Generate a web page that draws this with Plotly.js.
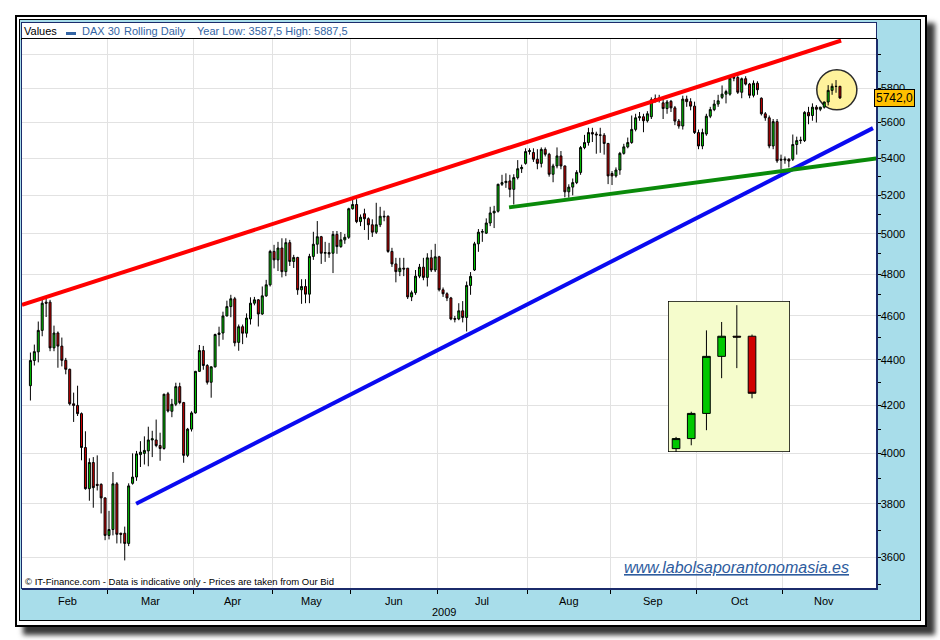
<!DOCTYPE html>
<html>
<head>
<meta charset="utf-8">
<script src="https://cdn.plot.ly/plotly-3.0.1.min.js"></script>
<style>
html,body{margin:0;padding:0;background:#fff;}
#wrap{position:relative;width:940px;height:640px;overflow:hidden;background:#fff;}
.frame{position:absolute;left:15px;top:15px;width:912px;height:612px;box-sizing:border-box;border:2px solid #000;background:#fff;box-shadow:8px 8px 5px #3a3a3a;}
.inner{position:absolute;left:19px;top:19px;width:902px;height:602px;box-sizing:border-box;border:1px solid #000;background:#A8DDEA;}
.panel{position:absolute;left:21px;top:22px;width:856px;height:567px;box-sizing:border-box;border:1px solid #1b2b6b;background:#fff;}
.sep{position:absolute;left:21px;top:38px;width:856px;height:1.5px;background:#000;}
#chart{position:absolute;left:0;top:0;width:940px;height:640px;}
</style>
</head>
<body>
<div id="wrap">
  <div class="frame"></div>
  <div class="inner"></div>
  <div class="panel"></div>
  <div class="sep"></div>
  <div id="chart"></div>
</div>
<script>
// ---- DAX 30 daily candles, index 0 = first trading day of Feb 2009 ----
const openP = [4285,4396,4435,4533,4665,4665,4453,4521,4461,4397,4357,4207,4200,4165,4024,3859,3963,3876,3876,3823,
3680,3702,3878,3688,3688,3650,3880,3905,3995,4000,4010,4055,4055,4032,4020,4250,4175,4205,4281,4212,
3992,4100,4168,4348,4441,4374,4300,4368,4514,4521,4600,4644,4681,4478,4550,4520,4586,4660,4676,4609,
4695,4748,4912,4870,4929,4812,4956,4862,4882,4724,4740,4703,4887,4948,4986,4903,4906,4903,4998,4936,
4970,4983,5130,5152,5063,5104,5078,5047,5009,5047,5091,5091,4912,4850,4812,4829,4829,4690,4710,4790,
4834,4784,4880,4820,4885,4724,4705,4685,4588,4586,4624,4593,4745,4820,4950,5009,5004,5056,5108,5117,
5259,5268,5277,5232,5295,5343,5372,5437,5432,5395,5372,5449,5422,5313,5358,5413,5358,5219,5244,5268,
5323,5459,5487,5543,5535,5530,5528,5482,5317,5304,5336,5427,5463,5487,5561,5627,5633,5610,5633,5731,
5737,5713,5680,5722,5684,5608,5580,5735,5720,5694,5543,5468,5535,5636,5674,5706,5745,5764,5764,5858,
5862,5775,5855,5823,5757,5828,5740,5650,5627,5468,5605,5395,5390,5395,5395,5476,5498,5498,5658,5640,
5688,5676,5688,5718,5786,5810,5810];
const highP = [4432,4468,4574,4676,4690,4676,4555,4528,4500,4408,4360,4255,4285,4170,4091,3980,3985,3992,3880,3825,
3773,3925,3885,3690,3713,3880,4000,4010,4050,4070,4110,4093,4140,4085,4250,4258,4228,4298,4298,4215,
4105,4175,4350,4466,4462,4380,4370,4518,4550,4620,4672,4700,4690,4560,4560,4612,4688,4690,4680,4740,
4772,4920,4945,4960,4978,4978,4970,4895,4885,4775,4775,4900,5011,5066,4990,4960,4955,5015,5015,5010,
5000,5135,5178,5180,5100,5130,5085,5075,5161,5140,5120,5095,4930,4880,4880,4880,4830,4720,4820,4850,
4880,4903,4920,4950,4890,4735,4712,4690,4600,4660,4670,4764,4810,4960,5025,5025,5080,5140,5145,5262,
5310,5318,5310,5313,5390,5365,5455,5455,5455,5450,5460,5460,5430,5370,5460,5440,5360,5259,5290,5335,
5468,5530,5570,5570,5548,5570,5540,5485,5330,5350,5435,5480,5515,5640,5650,5660,5650,5665,5745,5762,
5760,5745,5730,5730,5695,5620,5755,5755,5740,5720,5560,5565,5650,5690,5730,5760,5815,5790,5867,5870,
5887.5,5862,5870,5830,5845,5840,5745,5660,5640,5620,5620,5420,5410,5400,5532,5520,5520,5665,5690,5710,
5700,5690,5720,5817,5827,5847,5812];
const lowP = [4221,4374,4388,4506,4595,4438,4438,4364,4370,4335,4200,4130,4155,3972,3855,3812,3785,3852,3763,3662,
3665,3680,3650,3650,3587.5,3640,3875,3890,3945,3955,3948,3985,4025,3970,4015,4170,4150,4197,4205,3962,
3985,4090,4165,4345,4355,4290,4233,4365,4460,4490,4598,4594,4460,4440,4470,4500,4560,4650,4551,4605,
4690,4740,4828,4815,4784,4790,4840,4830,4700,4657,4660,4660,4870,4900,4850,4860,4880,4805,4900,4930,
4950,4975,5125,5055,5040,5020,4970,4985,5000,5035,5065,4905,4835,4760,4790,4790,4680,4670,4700,4780,
4770,4740,4810,4810,4716,4690,4670,4580,4570,4580,4570,4528,4700,4815,4910,4960,5000,5040,5030,5110,
5250,5240,5190,5152,5285,5320,5365,5420,5380,5340,5350,5410,5300,5270,5345,5340,5190,5188,5200,5260,
5310,5450,5470,5490,5425,5430,5420,5260,5255,5295,5310,5420,5455,5480,5550,5610,5545,5600,5620,5715,
5715,5620,5650,5660,5585,5565,5560,5690,5670,5535,5450,5450,5525,5625,5665,5690,5735,5710,5755,5840,
5765,5740,5815,5740,5745,5760,5640,5610,5455,5450,5375,5340,5370,5350,5385,5420,5480,5490,5590,5610,
5600,5665,5680,5698,5760,5772,5736];
const closeP = [4396,4436,4533,4660,4660,4453,4521,4461,4397,4357,4207,4200,4165,4024,3859,3963,3863,3872,3823,3680,
3702,3878,3684,3684,3650,3870,3905,3998,4005,4012,4055,4060,4032,4020,4248,4176,4205,4281,4212,3992,
4100,4168,4348,4441,4374,4300,4368,4514,4521,4600,4644,4681,4476,4550,4520,4590,4660,4676,4609,4695,
4748,4912,4870,4929,4812,4956,4862,4882,4724,4740,4703,4887,4948,4986,4903,4906,4900,4998,4936,4970,
4983,5130,5152,5063,5086,5078,5047,5009,5047,5091,5088,4912,4850,4812,4829,4825,4690,4710,4790,4834,
4784,4880,4820,4885,4724,4705,4685,4586,4585,4624,4593,4745,4789,4950,5009,5012,5056,5108,5117,5259,
5268,5275,5232,5295,5343,5350,5437,5442,5395,5372,5449,5422,5313,5358,5413,5358,5219,5244,5268,5323,
5459,5487,5543,5535,5530,5528,5482,5304,5304,5336,5427,5463,5487,5561,5627,5633,5610,5650,5731,5737,
5740,5680,5718,5684,5608,5580,5735,5720,5694,5543,5468,5543,5636,5674,5706,5725,5764,5779,5858,5862,
5775,5855,5823,5757,5828,5790,5650,5627,5468,5605,5386,5390,5395,5385,5476,5498,5500,5658,5638,5688,
5676,5688,5718,5786,5810,5809,5742];

// ---- calendar (trading-day index where each month starts) ----
const monthNames = ['Feb','Mar','Apr','May','Jun','Jul','Aug','Sep','Oct','Nov'];
const monthStart = [0,20,42,62,82,104,127,148,170,192];
const monthDays  = [20,22,20,20,22,23,21,22,22,21];
const yearLabel = '2009';

// ---- y axis ticks ----
const yTickVals = [3600,3800,4000,4200,4400,4600,4800,5000,5200,5400,5600,5800,6000];
const yTickText = ['3600','3800','4000','4200','4400','4600','4800','5000','5200','5400','5600','5800',''];
const yMinorVals = [3500,3700,3900,4100,4300,4500,4700,4900,5100,5300,5500,5700,5900,6100];

// ---- hand-drawn trend lines (trading-day index, price) ----
const redLineX = [-2.14, 206.3],   redLineY = [4652, 6087];
const blueLineX = [26.9, 214.4],   blueLineY = [3800, 5568];
const greenLineX = [121.8, 215.2], greenLineY = [5137, 5399];

// ---- highlight circle (bounds in index / price) and inset (last six sessions) ----
const highlightXBounds = [200.1, 210.3], highlightYBounds = [5673, 5908];
const insetFirst = 201, insetLast = 206;
const insetXRange = [200.47, 208.5], insetYRange = [5672, 5852];
const lastPriceLabel = '5742,0';
const lastPrice = 5742;

// ---- legend / credit texts ----
const legendLabel = 'Values';
const seriesName = 'DAX 30';
const seriesMode = 'Rolling Daily';
const yearRange = 'Year Low: 3587,5 High: 5887,5';
const creditText = '\u00A9 IT-Finance.com - Data is indicative only - Prices are taken from Our Bid';
const siteText = 'www.labolsaporantonomasia.es';

const idx = openP.map((_, i) => i);
const xRange = [-2.14, 215.17];

const boundaries = monthStart.slice(1).map(s => s - 0.5);
const centers = monthStart.map((s, k) => {
  const a = Math.max(s - 0.5, xRange[0]);
  const b = Math.min(s - 0.5 + monthDays[k], xRange[1]);
  return (a + b) / 2;
});

const FONT = 'Liberation Sans, Arial, sans-serif';

const candleStyle = {
  increasing: {fillcolor: '#00C800', line: {color: '#000000', width: 1}},
  decreasing: {fillcolor: '#D00000', line: {color: '#000000', width: 1}},
  whiskerwidth: 0,
  showlegend: false,
  hoverinfo: 'skip'
};

const traces = [
  Object.assign({type: 'candlestick', x: idx, open: openP, high: highP, low: lowP, close: closeP,
   xaxis: 'x', yaxis: 'y'}, candleStyle),
  {type: 'scatter', x: redLineX, y: redLineY, mode: 'lines', line: {color: '#FF0000', width: 4},
   showlegend: false, hoverinfo: 'skip'},
  {type: 'scatter', x: blueLineX, y: blueLineY, mode: 'lines', line: {color: '#0A0AF0', width: 4},
   showlegend: false, hoverinfo: 'skip'},
  {type: 'scatter', x: greenLineX, y: greenLineY, mode: 'lines', line: {color: '#0A8A0A', width: 4},
   showlegend: false, hoverinfo: 'skip'},
  Object.assign({type: 'candlestick',
   x: idx.slice(insetFirst, insetLast + 1),
   open: openP.slice(insetFirst, insetLast + 1),
   high: highP.slice(insetFirst, insetLast + 1),
   low: lowP.slice(insetFirst, insetLast + 1),
   close: closeP.slice(insetFirst, insetLast + 1),
   xaxis: 'x3', yaxis: 'y3'}, candleStyle)
];

const px = v => (v - 22) / 854;      // paper x from page pixel
const py = v => (588 - v) / 549;     // paper y from page pixel

const annotations = [];
monthNames.forEach((m, k) => {
  annotations.push({text: m, x: centers[k], xref: 'x', y: py(601), yref: 'paper',
    showarrow: false, xanchor: 'center', yanchor: 'middle',
    font: {family: FONT, size: 11, color: '#000'}});
});
annotations.push({text: yearLabel, x: px(444), xref: 'paper', y: py(612), yref: 'paper',
  showarrow: false, xanchor: 'center', yanchor: 'middle', font: {family: FONT, size: 11, color: '#000'}});
annotations.push({text: legendLabel, x: px(22), xref: 'paper', y: py(31), yref: 'paper',
  showarrow: false, xanchor: 'left', yanchor: 'middle', font: {family: FONT, size: 11, color: '#000'}});
annotations.push({text: seriesName, x: px(80), xref: 'paper', y: py(31), yref: 'paper',
  showarrow: false, xanchor: 'left', yanchor: 'middle', font: {family: FONT, size: 11, color: '#3465A4'}});
annotations.push({text: seriesMode, x: px(122), xref: 'paper', y: py(31), yref: 'paper',
  showarrow: false, xanchor: 'left', yanchor: 'middle', font: {family: FONT, size: 11, color: '#3465A4'}});
annotations.push({text: yearRange, x: px(195), xref: 'paper', y: py(31), yref: 'paper',
  showarrow: false, xanchor: 'left', yanchor: 'middle', font: {family: FONT, size: 11, color: '#3465A4'}});
annotations.push({text: creditText, x: px(23), xref: 'paper', y: py(581), yref: 'paper',
  showarrow: false, xanchor: 'left', yanchor: 'middle', font: {family: FONT, size: 9.5, color: '#000'}});
annotations.push({text: '<i><u>' + siteText + '</u></i>', x: px(736), xref: 'paper', y: py(567), yref: 'paper',
  showarrow: false, xanchor: 'center', yanchor: 'middle', font: {family: FONT, size: 16, color: '#2E5C9E'}});
annotations.push({text: lastPriceLabel, x: px(895), xref: 'paper', y: Math.log10(lastPrice), yref: 'y',
  showarrow: false, xanchor: 'center', yanchor: 'middle', bgcolor: '#FFC000', bordercolor: '#000',
  borderwidth: 1, borderpad: 1, font: {family: FONT, size: 12, color: '#000'}});

const layout = {
  width: 940, height: 640,
  margin: {l: 22, r: 64, t: 39, b: 52, pad: 0},
  paper_bgcolor: 'rgba(0,0,0,0)',
  plot_bgcolor: '#ffffff',
  showlegend: false,
  boxgap: 0.28,
  xaxis: {
    range: xRange, tickmode: 'array', tickvals: boundaries, ticktext: boundaries.map(() => ''),
    ticks: 'outside', ticklen: 4, tickcolor: '#000', tickwidth: 1,
    showgrid: true, gridcolor: '#E2E2E2', gridwidth: 1, zeroline: false,
    showline: true, linecolor: '#1b2b6b', linewidth: 1.5,
    rangeslider: {visible: false}, fixedrange: true
  },
  yaxis: {
    type: 'log', side: 'right', range: [3.54261, 3.78507],
    tickmode: 'array', tickvals: yTickVals, ticktext: yTickText,
    ticks: 'outside', ticklen: 3, tickcolor: '#000', ticklabelstandoff: -2,
    minor: {tickmode: 'array', tickvals: yMinorVals, ticks: 'outside', ticklen: 3, tickcolor: '#000', showgrid: false},
    showgrid: true, gridcolor: '#E2E2E2', gridwidth: 1, zeroline: false,
    showline: true, linecolor: '#1b2b6b', linewidth: 1.5,
    tickfont: {family: FONT, size: 11, color: '#000'}, fixedrange: true
  },
  xaxis3: {domain: [px(668), px(790)], anchor: 'y3', range: insetXRange, visible: false,
    rangeslider: {visible: false}, fixedrange: true},
  yaxis3: {domain: [py(452), py(301)], anchor: 'x3', range: insetYRange, visible: false, fixedrange: true},
  shapes: [
    {type: 'circle', xref: 'x', yref: 'y',
     x0: highlightXBounds[0], x1: highlightXBounds[1], y0: highlightYBounds[0], y1: highlightYBounds[1],
     fillcolor: '#FFF29C', line: {color: '#2a2a2a', width: 1.5}, layer: 'between'},
    {type: 'rect', xref: 'x3', yref: 'y3', x0: insetXRange[0], x1: insetXRange[1],
     y0: insetYRange[0], y1: insetYRange[1],
     fillcolor: '#F5FCCC', line: {color: '#000', width: 1.5}, layer: 'below'},
    {type: 'rect', xref: 'paper', yref: 'paper', x0: px(66), x1: px(76), y0: py(35), y1: py(32),
     fillcolor: '#3465A4', line: {width: 0}}
  ],
  annotations: annotations
};

Plotly.newPlot('chart', traces, layout, {staticPlot: true, displayModeBar: false});
</script>
</body>
</html>
